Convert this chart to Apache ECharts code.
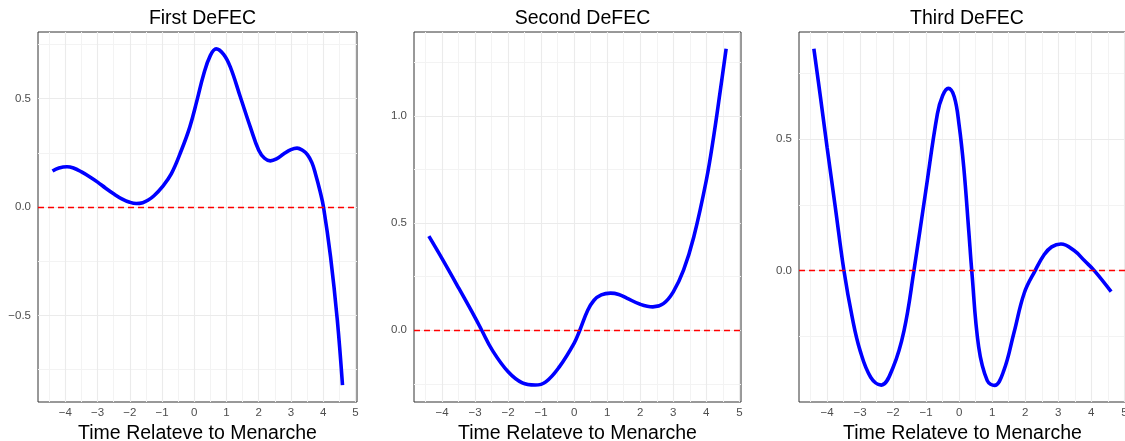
<!DOCTYPE html>
<html><head><meta charset="utf-8">
<script src="https://cdn.jsdelivr.net/npm/echarts@6/dist/echarts.min.js"></script>
<style>html,body{margin:0;padding:0;background:#fff}#c{width:1125px;height:441px}</style>
</head><body><div id="c"></div>
<script>
const titles = ['First DeFEC', 'Second DeFEC', 'Third DeFEC'];
const xAxisTitle = 'Time Relateve to Menarche';
const xTicks = [-4, -3, -2, -1, 0, 1, 2, 3, 4, 5];
const xMinor = [-4.5, -3.5, -2.5, -1.5, -0.5, 0.5, 1.5, 2.5, 3.5, 4.5];

const yTicks1 = [-0.5, 0, 0.5];
const yMinor1 = [-0.75, -0.25, 0.25, 0.75];
const yTicks2 = [0, 0.5, 1.0];
const yMinor2 = [-0.25, 0.25, 0.75, 1.25];
const yTicks3 = [0, 0.5];
const yMinor3 = [-0.25, 0.25, 0.75];

const x1 = [-4.40,-4.20,-3.95,-3.75,-3.50,-3.25,-3.00,-2.75,-2.48,-2.25,-2.00,-1.80,-1.60,-1.44,-1.25,-1.00,-0.71,-0.40,-0.14,0.08,0.29,0.50,0.68,0.91,1.12,1.43,1.74,2.00,2.18,2.36,2.55,2.78,3.00,3.19,3.36,3.51,3.65,3.76,3.90,4.01,4.23,4.44,4.60];
const y1 = [0.166,0.180,0.186,0.180,0.162,0.140,0.115,0.087,0.059,0.038,0.022,0.016,0.020,0.031,0.052,0.092,0.154,0.262,0.369,0.490,0.612,0.700,0.730,0.705,0.646,0.508,0.369,0.262,0.225,0.213,0.222,0.246,0.265,0.272,0.262,0.242,0.205,0.154,0.075,0.000,-0.231,-0.523,-0.822];

const x2 = [-4.40,-4.00,-3.49,-3.00,-2.80,-2.48,-2.00,-1.57,-1.18,-0.86,-0.45,0.00,0.17,0.41,0.60,0.82,1.10,1.35,1.59,2.00,2.38,2.70,3.00,3.31,3.62,4.00,4.22,4.42,4.60];
const y2 = [0.439,0.334,0.195,0.059,0.000,-0.093,-0.194,-0.246,-0.256,-0.241,-0.171,-0.060,0.000,0.093,0.140,0.165,0.173,0.167,0.150,0.121,0.109,0.124,0.179,0.280,0.435,0.700,0.902,1.115,1.3135];

const x3 = [-4.40,-4.20,-4.00,-3.75,-3.49,-3.24,-3.00,-2.68,-2.36,-2.00,-1.67,-1.37,-1.01,-0.66,-0.50,-0.33,-0.15,0.00,0.14,0.29,0.38,0.59,0.85,1.07,1.35,1.66,1.97,2.30,2.57,2.80,3.08,3.48,3.79,4.09,4.60];
const y3 = [0.842,0.658,0.468,0.240,0.000,-0.177,-0.304,-0.405,-0.435,-0.367,-0.228,0.000,0.304,0.595,0.665,0.692,0.660,0.550,0.390,0.150,0.000,-0.290,-0.418,-0.436,-0.380,-0.235,-0.085,0.000,0.060,0.090,0.101,0.076,0.038,0.000,-0.080];

const panels = [
  {x: x1, y: y1, yT: yTicks1, yM: yMinor1, ymin: -0.900, ymax: 0.808, left: 38, width: 319},
  {x: x2, y: y2, yT: yTicks2, yM: yMinor2, ymin: -0.335, ymax: 1.392, left: 414, width: 327},
  {x: x3, y: y3, yT: yTicks3, yM: yMinor3, ymin: -0.499, ymax: 0.906, left: 799, width: 327}
];

const FONT = '"Liberation Sans", Arial, Helvetica, sans-serif';
const minus = s => s.replace('-', '\u2212');
const majorStyle = {color: '#EBEBEB', width: 1.1, type: 'solid'};
const minorStyle = {color: '#F3F3F3', width: 1, type: 'solid'};

const option = {
  animation: false,
  backgroundColor: '#fff',
  title: [], grid: [], xAxis: [], yAxis: [], series: []
};

panels.forEach((p, i) => {
  option.title.push({
    text: titles[i], left: p.left + p.width / 2 - (i === 2 ? 0.5 : 0), top: 4, textAlign: 'center',
    textStyle: {fontFamily: FONT, fontSize: 19.5, fontWeight: 'normal', color: '#000'}
  });
  option.grid.push({
    left: p.left, top: 32, width: p.width, height: 370,
    outerBoundsMode: 'none', containLabel: false,
    show: true, borderColor: '#333333', borderWidth: 1, backgroundColor: 'transparent'
  });
  option.xAxis.push({
    type: 'value', gridIndex: i, min: -4.85, max: 5.05,
    axisLine: {show: false},
    axisTick: {show: true, customValues: xTicks, length: 3.5, lineStyle: {color: '#333333', width: 1}},
    axisLabel: {customValues: xTicks, margin: 5, color: '#4D4D4D', fontSize: 11.5, fontFamily: FONT,
      formatter: v => minus(String(v))},
    splitLine: {show: false},
    name: xAxisTitle, nameLocation: 'middle', nameGap: 21,
    nameTextStyle: {fontFamily: FONT, fontSize: 19.5, color: '#000'}
  });
  option.yAxis.push({
    type: 'value', gridIndex: i, min: p.ymin, max: p.ymax,
    axisLine: {show: false},
    axisTick: {show: true, customValues: p.yT, length: 3.5, lineStyle: {color: '#333333', width: 1}},
    axisLabel: {customValues: p.yT, margin: 7, color: '#4D4D4D', fontSize: 11.5, fontFamily: FONT,
      formatter: v => minus(v.toFixed(1))},
    splitLine: {show: false}
  });
  const gridLines = []
    .concat(xMinor.map(v => ({xAxis: v, lineStyle: minorStyle})))
    .concat(p.yM.map(v => ({yAxis: v, lineStyle: minorStyle})))
    .concat(xTicks.map(v => ({xAxis: v, lineStyle: majorStyle})))
    .concat(p.yT.map(v => ({yAxis: v, lineStyle: majorStyle})));
  option.series.push({
    type: 'line', xAxisIndex: i, yAxisIndex: i, data: [], z: 1, silent: true,
    markLine: {z: 1, silent: true, symbol: ['none', 'none'], label: {show: false}, animation: false,
      emphasis: {disabled: true}, data: gridLines}
  });
  option.series.push({
    type: 'line', xAxisIndex: i, yAxisIndex: i, z: 3, silent: true,
    data: p.x.map((xv, k) => [xv, p.y[k]]),
    smooth: 0.4, showSymbol: false, symbol: 'none',
    lineStyle: {color: '#0000FF', width: 3.6, cap: 'butt'}
  });
  option.series.push({
    type: 'line', xAxisIndex: i, yAxisIndex: i, data: [], z: 4, silent: true,
    markLine: {z: 10, silent: true, symbol: ['none', 'none'], label: {show: false}, animation: false,
      emphasis: {disabled: true},
      data: [{yAxis: 0, lineStyle: {color: '#FF0000', width: 1.4, type: [6, 4]}}]}
  });
});

const chart = echarts.init(document.getElementById('c'), null, {renderer: 'canvas'});
chart.setOption(option);
</script>
</body></html>
